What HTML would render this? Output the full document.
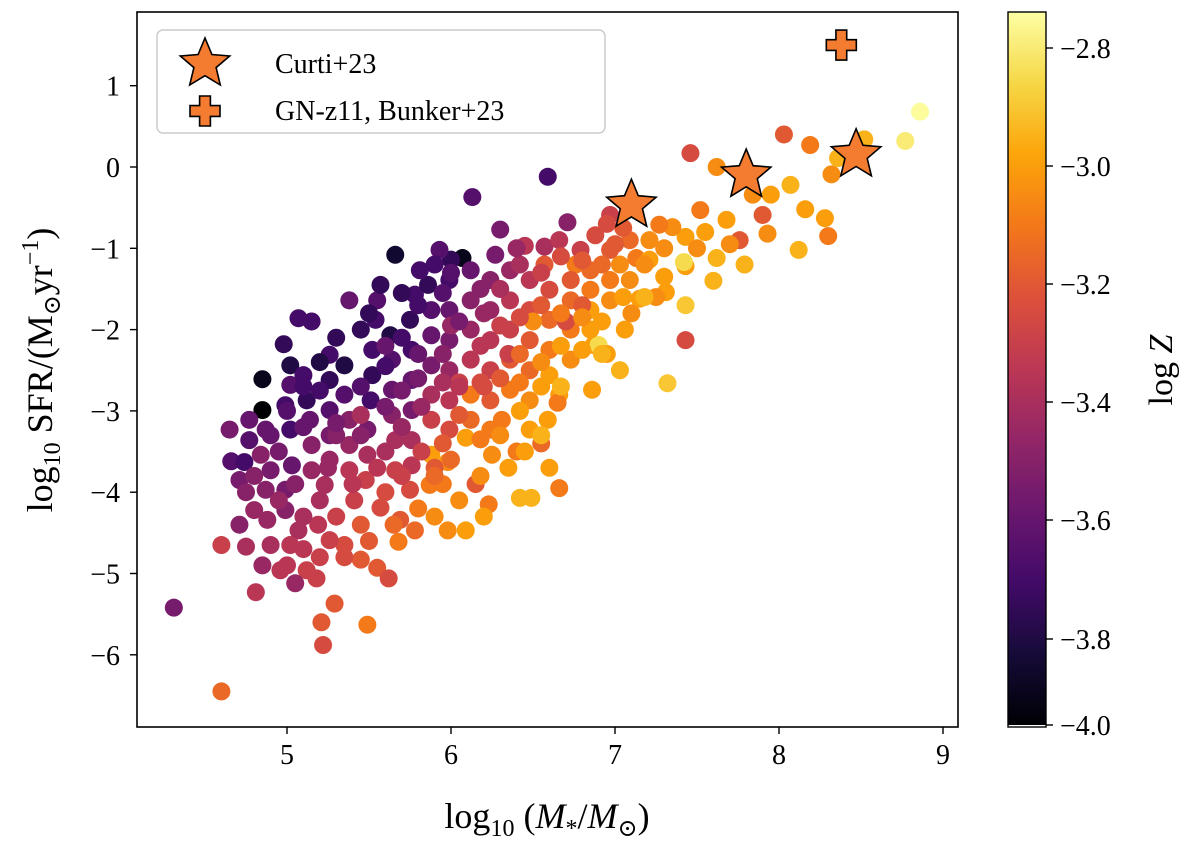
<!DOCTYPE html>
<html><head><meta charset="utf-8">
<style>
body{margin:0;background:#fff;}
svg{display:block;font-family:"Liberation Serif","DejaVu Serif",serif;}
</style></head>
<body>
<svg id="chart" width="1200" height="854" viewBox="0 0 1200 854">
<defs>
<linearGradient id="inf" x1="0" y1="1" x2="0" y2="0">
<stop offset="0" stop-color="#000004"/><stop offset="0.1" stop-color="#160b39"/><stop offset="0.2" stop-color="#420a68"/><stop offset="0.3" stop-color="#6a176e"/><stop offset="0.4" stop-color="#932667"/><stop offset="0.5" stop-color="#bc3754"/><stop offset="0.6" stop-color="#dd513a"/><stop offset="0.7" stop-color="#f37819"/><stop offset="0.8" stop-color="#fca50a"/><stop offset="0.9" stop-color="#f6d746"/><stop offset="1" stop-color="#fcffa4"/>
</linearGradient>
<clipPath id="clip"><rect x="137" y="12" width="821" height="715"/></clipPath>
</defs>
<g id="points" clip-path="url(#clip)"></g>
<g id="special"></g>
<rect x="137" y="12" width="821" height="715" fill="none" stroke="#000" stroke-width="1.6"/>
<g id="axes"></g>
<text x="547" y="828" font-size="36" text-anchor="middle">log<tspan font-size="24" dy="8">10</tspan><tspan dy="-8"> (</tspan><tspan font-style="italic">M</tspan><tspan font-size="24" dy="8">*</tspan><tspan dy="-8">/</tspan><tspan font-style="italic">M</tspan><tspan font-size="24" dy="8">⊙</tspan><tspan dy="-8">)</tspan></text>
<text transform="translate(52,370) rotate(-90)" font-size="36" text-anchor="middle">log<tspan font-size="24" dy="8">10</tspan><tspan dy="-8"> SFR/(M</tspan><tspan font-size="24" dy="8">⊙</tspan><tspan dy="-8">yr</tspan><tspan font-size="24" dy="-14">−1</tspan><tspan dy="14">)</tspan></text>
<g>
<rect x="157" y="30" width="448" height="103" rx="6" fill="#fff" fill-opacity="0.85" stroke="#ccc" stroke-width="1.5"/>
<g id="legstar"></g>
<text x="275" y="73" font-size="28">Curti+23</text>
<text x="275" y="120" font-size="28">GN-z11, Bunker+23</text>
</g>
<rect x="1008" y="12" width="38" height="713" fill="url(#inf)"/>
<rect x="1008" y="12" width="38" height="715" fill="none" stroke="#000" stroke-width="1.4"/>
<g id="cbaxis"></g>
<text transform="translate(1172,370) rotate(-90)" font-size="34" text-anchor="middle">log <tspan font-style="italic">Z</tspan></text>
</svg>
<script>
const xTicks=[5,6,7,8,9];
const yTicks=[1,0,-1,-2,-3,-4,-5,-6];
const cbTicks=[-2.8,-3.0,-3.2,-3.4,-3.6,-3.8,-4.0];
const cbTickY=[48,166,284,402,520,639,725];
const xs=[4.31,4.6,4.6,4.75,4.81,4.85,4.66,4.74,4.85,4.85,4.98,5.07,5.15,5.21,5.22,5.29,5.49,5.55,5.62,5.66,
6.07,6.13,6.59,6.71,6.45,6.57,6.97,7.46,7.62,8.03,8.19,8.32,8.36,8.52,8.77,8.86,8.44,8.07,8.16,8.3,
8.28,8.12,7.9,7.76,7.79,7.62,7.43,7.68,7.52,7.43,7.35,7.95,7.84,7.93,7.42,7.43,7.43,7.31,7.32,7.15,
7.06,6.87,6.9,6.85,7.03,7.13,7.21,6.76,6.57,7.03,6.86,6.66,6.59,6.48,6.42,6.49,6.66,6.23,6.09,5.98,
5.87,5.88,5.98,6.09,6.12,6.25,6.31,5.78,5.68,5.69,5.57,5.41,5.45,5.35,5.26,5.19,5.07,5.02,4.96,5.12,
5.05,5.18,4.77,4.77,4.87,4.84,4.9,4.87,4.8,4.88,4.99,4.99,5.03,5.02,4.99,5.02,5.02,5.1,5.12,5.14,
5.15,5.15,5.23,5.26,5.26,5.26,5.26,5.26,5.35,5.35,5.38,5.38,5.38,5.48,5.49,5.49,5.51,5.52,5.52,5.54,
5.55,5.63,5.64,5.64,5.64,5.66,5.66,5.75,5.76,5.76,5.76,5.76,5.76,5.75,5.78,5.86,5.88,5.88,5.88,5.88,
5.88,5.99,5.99,5.99,5.99,5.99,5.99,6.0,6.12,6.12,6.12,6.12,6.12,6.24,6.24,6.24,6.24,6.24,6.24,6.27,
6.36,6.36,6.36,6.36,6.36,6.48,6.48,6.48,6.48,6.48,6.6,6.6,6.6,6.6,6.73,6.73,6.73,6.73,6.85,6.85,
6.85,6.97,6.97,6.97,7.09,7.09,7.21,7.27,6.66,6.79,6.88,6.3,5.93,5.81,5.38,5.57,4.65,4.71,4.71,4.9,
5.3,5.45,5.7,5.9,6.05,6.2,6.4,6.55,6.7,6.8,5.6,5.8,6.0,6.15,6.35,6.5,6.65,6.95,7.1,7.25,
5.1,5.2,5.3,5.45,5.45,5.6,5.6,5.6,5.7,5.7,5.7,5.8,5.8,5.82,5.82,5.95,5.95,5.95,5.95,5.95,
6.05,6.05,6.05,6.05,6.18,6.18,6.18,6.18,6.18,6.3,6.3,6.3,6.3,6.42,6.42,6.42,6.42,6.42,6.55,6.55,
6.55,6.55,6.55,6.67,6.67,6.67,6.67,6.8,6.8,6.8,6.92,6.92,6.92,7.05,7.05,7.18,7.18,7.3,7.3,7.55,
7.6,7.7,7.5,7.0,6.95,6.4,6.2,6.0,5.9,5.7,5.5,5.45,5.3,5.2,5.1,5.0,4.95,4.95,5.05,5.1,
5.2,5.25,5.3,5.4,5.45,5.55,5.6,5.65,5.7,5.8,5.9,5.9,6.0,6.2,6.35,6.45,6.6,4.8,4.9,4.75,
5.0,5.1,5.2,5.35,5.5];
const ys=[-5.42,-6.45,-4.65,-4.67,-5.23,-4.9,-3.62,-3.63,-2.61,-2.99,-2.18,-1.86,-1.9,-5.6,-5.88,-5.37,-5.63,-4.93,-5.06,-1.08,
-1.12,-0.37,-0.12,-0.68,-0.97,-0.98,-0.59,0.17,0,0.4,0.27,-0.09,0.11,0.34,0.32,0.68,0.17,-0.22,-0.52,-0.85,
-0.63,-1.02,-0.59,-0.9,-1.2,-1.12,-1.22,-0.65,-0.53,-0.86,-0.74,-0.34,-0.34,-0.82,-1.17,-1.7,-2.13,-1.54,-2.66,-1.62,
-2.0,-2.19,-2.19,-1.76,-1.2,-1.12,-1.14,-1.2,-1.2,-2.5,-2.74,-2.8,-3.11,-3.23,-4.07,-4.07,-3.95,-4.15,-4.47,-4.47,
-3.91,-3.54,-3.63,-3.33,-2.8,-3.54,-3.11,-4.47,-4.61,-4.34,-4.19,-4.1,-4.83,-4.65,-4.59,-4.4,-4.47,-4.65,-4.96,-4.96,
-5.12,-5.06,-3.11,-3.36,-3.23,-3.54,-3.73,-3.97,-4.22,-4.34,-4.22,-3.97,-3.67,-3.23,-2.93,-2.68,-2.44,-2.56,-2.87,-3.11,
-3.42,-3.73,-3.91,-3.6,-3.3,-2.99,-2.62,-2.31,-2.44,-2.8,-3.11,-3.42,-3.73,-3.85,-3.54,-3.23,-2.87,-2.56,-2.25,-1.88,
-1.64,-2.07,-2.37,-2.74,-3.05,-3.36,-3.73,-3.97,-3.67,-3.36,-2.99,-2.62,-2.25,-1.88,-1.57,-1.45,-1.76,-2.07,-2.44,-2.8,
-3.11,-3.23,-2.87,-2.5,-2.13,-1.76,-1.39,-1.14,-1.27,-1.64,-2.0,-2.37,-3.11,-3.23,-2.87,-2.5,-2.13,-1.76,-1.39,-1.08,
-1.27,-1.64,-2.0,-2.37,-2.74,-2.87,-2.5,-2.13,-1.76,-1.39,-1.51,-1.88,-2.25,-2.56,-2.37,-2.0,-1.64,-1.39,-1.27,-1.51,
-2.0,-1.64,-1.39,-1.02,-0.9,-1.39,-0.9,-0.71,-0.9,-1.02,-0.84,-0.77,-1.02,-1.27,-1.64,-1.45,-3.23,-3.85,-4.4,-4.65,
-3.3,-3.05,-3.2,-3.7,-2.65,-2.7,-3.5,-3.4,-1.9,-1.7,-2.2,-2.6,-1.95,-3.9,-2.3,-1.9,-2.9,-2.3,-1.8,-1.6,
-3.2,-2.75,-3.15,-2.7,-3.3,-2.45,-2.95,-3.5,-2.1,-2.75,-3.2,-1.7,-2.3,-2.95,-3.5,-1.55,-2.3,-2.65,-3.4,-3.9,
-1.9,-2.7,-3.05,-4.1,-1.5,-2.2,-2.65,-3.35,-3.8,-1.5,-1.95,-2.6,-3.3,-1.2,-1.85,-2.3,-2.65,-3.0,-1.3,-1.7,
-2.4,-2.7,-3.3,-1.1,-1.8,-2.2,-2.7,-1.15,-1.85,-2.25,-1.2,-1.9,-2.3,-0.75,-1.6,-1.2,-1.6,-1.0,-1.35,-0.8,
-1.4,-0.95,-1.0,-0.95,-0.7,-1.0,-1.8,-1.3,-1.2,-1.55,-1.8,-2.0,-2.1,-2.4,-2.7,-3.0,-3.5,-4.1,-3.9,-4.3,
-4.1,-3.7,-4.3,-3.9,-4.4,-3.7,-4.0,-4.4,-3.8,-4.2,-3.8,-4.3,-3.6,-4.3,-3.7,-3.5,-3.7,-3.8,-3.3,-4.0,
-4.9,-4.7,-4.8,-4.8,-4.6];
const zs=[-3.55,-3.15,-3.3,-3.4,-3.35,-3.45,-3.65,-3.7,-3.9,-3.95,-3.75,-3.7,-3.7,-3.2,-3.25,-3.2,-3.1,-3.2,-3.25,-3.85,
-3.9,-3.65,-3.7,-3.5,-3.35,-3.4,-3.3,-3.25,-3.05,-3.2,-3.1,-3.05,-2.95,-2.95,-2.8,-2.75,-2.95,-2.95,-3.0,-3.1,
-3.0,-2.95,-3.2,-3.2,-2.95,-2.95,-3.0,-3.0,-3.1,-3.0,-3.05,-3.0,-3.05,-3.05,-2.85,-2.9,-3.25,-3.0,-2.9,-3.0,
-3.0,-3.0,-2.85,-3.0,-3.05,-3.1,-3.0,-3.1,-3.2,-2.95,-3.0,-3.0,-3.0,-3.0,-2.95,-2.95,-3.1,-3.1,-3.0,-3.05,
-3.1,-3.0,-3.05,-3.0,-3.1,-3.05,-3.1,-3.15,-3.1,-3.2,-3.25,-3.3,-3.2,-3.25,-3.3,-3.35,-3.4,-3.35,-3.35,-3.3,
-3.45,-3.3,-3.6,-3.65,-3.6,-3.5,-3.55,-3.5,-3.45,-3.45,-3.5,-3.55,-3.6,-3.7,-3.7,-3.65,-3.8,-3.7,-3.75,-3.6,
-3.5,-3.45,-3.4,-3.45,-3.55,-3.65,-3.75,-3.7,-3.8,-3.65,-3.5,-3.45,-3.35,-3.3,-3.4,-3.55,-3.7,-3.75,-3.7,-3.7,
-3.65,-3.8,-3.65,-3.6,-3.5,-3.4,-3.3,-3.25,-3.35,-3.4,-3.55,-3.6,-3.7,-3.75,-3.7,-3.75,-3.65,-3.6,-3.55,-3.4,
-3.3,-3.25,-3.35,-3.45,-3.55,-3.6,-3.7,-3.75,-3.6,-3.5,-3.45,-3.35,-3.15,-3.1,-3.2,-3.3,-3.35,-3.45,-3.5,-3.55,
-3.45,-3.35,-3.3,-3.2,-3.1,-3.05,-3.15,-3.2,-3.25,-3.35,-3.25,-3.15,-3.1,-3.0,-3.05,-3.1,-3.15,-3.2,-3.15,-3.1,
-3.0,-3.05,-3.1,-3.2,-3.15,-3.05,-3.05,-3.1,-3.35,-3.3,-3.25,-3.55,-3.65,-3.7,-3.6,-3.75,-3.55,-3.55,-3.5,-3.4,
-3.5,-3.4,-3.35,-3.2,-3.3,-3.25,-3.1,-3.15,-3.25,-3.2,-3.6,-3.55,-3.45,-3.2,-3.3,-3.05,-3.1,-3.0,-3.05,-3.05,
-3.6,-3.7,-3.55,-3.65,-3.5,-3.7,-3.55,-3.4,-3.7,-3.55,-3.45,-3.7,-3.6,-3.45,-3.3,-3.65,-3.5,-3.4,-3.2,-3.1,
-3.55,-3.35,-3.2,-3.05,-3.5,-3.35,-3.25,-3.1,-3.05,-3.4,-3.3,-3.2,-3.05,-3.4,-3.25,-3.15,-3.1,-3.0,-3.3,-3.2,
-3.05,-3.0,-2.95,-3.25,-3.1,-3.0,-2.95,-3.2,-3.05,-3.0,-3.15,-3.0,-2.95,-3.2,-3.0,-3.05,-2.95,-3.05,-3.0,-3.0,
-2.95,-3.05,-3.05,-3.2,-3.25,-3.45,-3.45,-3.65,-3.7,-3.75,-3.75,-3.75,-3.75,-3.8,-3.7,-3.65,-3.55,-3.45,-3.5,-3.4,
-3.4,-3.45,-3.3,-3.35,-3.2,-3.35,-3.25,-3.15,-3.3,-3.1,-3.15,-3.05,-3.15,-3.0,-3.0,-3.0,-3.0,-3.5,-3.6,-3.5,
-3.35,-3.35,-3.3,-3.25,-3.2];
const curtiX=[7.1,7.8,8.47];
const curtiY=[-0.47,-0.1,0.15];
const gnX=[8.38];
const gnY=[1.5];

const NS='http://www.w3.org/2000/svg';
function X(v){return 287+(v-5)*164;}
function Y(v){return 167-v*81.3;}
const stops=[[0,0,4],[22,11,57],[66,10,104],[106,23,110],[147,38,103],[188,55,84],[221,81,58],[243,120,25],[252,165,10],[246,215,70],[252,255,164]];
function cmap(z){let t=(z+3.95)/1.21;t=Math.max(0,Math.min(1,t))*10;const i=Math.min(9,Math.floor(t)),f=t-i;const a=stops[i],b=stops[i+1];return 'rgb('+[0,1,2].map(k=>Math.round(a[k]+(b[k]-a[k])*f)).join(',')+')';}
function mk(tag,attrs,parent){const e=document.createElementNS(NS,tag);for(const k in attrs)e.setAttribute(k,attrs[k]);parent.appendChild(e);return e;}
const pts=document.getElementById('points');
for(let i=0;i<xs.length;i++){
  const c=mk('circle',{cx:X(xs[i]),cy:Y(ys[i]),r:9,fill:cmap(zs[i])},pts);
  
  
}
function starPath(cx,cy,R){const r=R*0.45;let d='';for(let k=0;k<10;k++){const a=-Math.PI/2+k*Math.PI/5;const rr=k%2?r:R;d+=(k?'L':'M')+(cx+rr*Math.cos(a)).toFixed(1)+','+(cy+rr*Math.sin(a)).toFixed(1);}return d+'Z';}
function plusPath(cx,cy,s){const w=s*0.36;return `M${cx-w},${cy-s}H${cx+w}V${cy-w}H${cx+s}V${cy+w}H${cx+w}V${cy+s}H${cx-w}V${cy+w}H${cx-s}V${cy-w}H${cx-w}Z`;}
const sp=document.getElementById('special');
for(let i=0;i<curtiX.length;i++){
  const s=mk('path',{d:starPath(X(curtiX[i]),Y(curtiY[i]),26),fill:'#f47c30',stroke:'#000','stroke-width':1.6},sp);
  
  
}
for(let i=0;i<gnX.length;i++){
  const p=mk('path',{d:plusPath(X(gnX[i]),Y(gnY[i]),15),fill:'#f47c30',stroke:'#000','stroke-width':1.6},sp);
  
  
}
const lg=document.getElementById('legstar');
mk('path',{d:starPath(205,64,26),fill:'#f47c30',stroke:'#000','stroke-width':1.6},lg);
mk('path',{d:plusPath(205,111,15),fill:'#f47c30',stroke:'#000','stroke-width':1.6},lg);
const ax=document.getElementById('axes');
xTicks.forEach(v=>{
  mk('line',{x1:X(v),x2:X(v),y1:727,y2:734,stroke:'#000','stroke-width':1.4},ax);
  const t=mk('text',{x:X(v),y:764,'font-size':28,'text-anchor':'middle'},ax);t.textContent=v;
  
  
});
yTicks.forEach(v=>{
  mk('line',{x1:130,x2:137,y1:Y(v),y2:Y(v),stroke:'#000','stroke-width':1.4},ax);
  const t=mk('text',{x:120,y:Y(v)+10,'font-size':28,'text-anchor':'end'},ax);t.textContent=v<0?'−'+(-v):v;
  
  
});
const cb=document.getElementById('cbaxis');
cbTicks.forEach((v,i)=>{
  mk('line',{x1:1046,x2:1053,y1:cbTickY[i],y2:cbTickY[i],stroke:'#000','stroke-width':1.4},cb);
  const t=mk('text',{x:1060,y:cbTickY[i]+10,'font-size':28},cb);t.textContent='−'+(-v).toFixed(1);
  
  
});
</script>
</body></html>
